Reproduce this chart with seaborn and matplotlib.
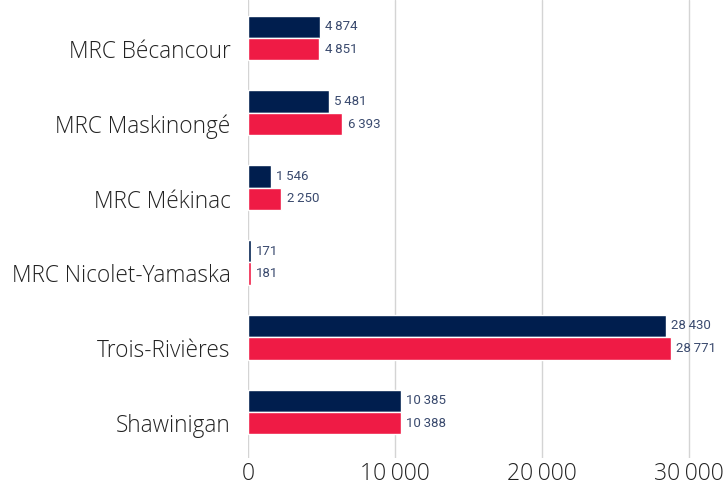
import matplotlib
matplotlib.use("Agg")
import matplotlib.pyplot as plt
import matplotlib.transforms as mtransforms
import seaborn as sns
import pandas as pd

regions = ["MRC Bécancour", "MRC Maskinongé", "MRC Mékinac",
           "MRC Nicolet-Yamaska", "Trois-Rivières", "Shawinigan"]
serie_a = [4874, 5481, 1546, 171, 28430, 10385]
serie_b = [4851, 6393, 2250, 181, 28771, 10388]
series = ["A", "B"]
x_ticks = [0, 10000, 20000, 30000]

colors = ["#001E4E", "#EF1B45"]
label_color = "#3A4A6E"


def fmt(v):
    s = f"{v:,}"
    return s.replace(",", "\u2009")


def main():
    df = pd.DataFrame({
        "region": regions * 2,
        "valeur": serie_a + serie_b,
        "serie": [series[0]] * len(regions) + [series[1]] * len(regions),
    })

    sns.set_style("white")
    plt.rcParams['font.family'] = ['Open Sans', 'DejaVu Sans']

    fig = plt.figure(figsize=(7.25, 4.91), dpi=100)
    ax = fig.add_axes([248 / 725, 33 / 491, 1 - 248 / 725, 458 / 491])

    sns.barplot(data=df, y="region", x="valeur", hue="serie", order=regions,
                palette=colors, width=0.6, orient="h", ax=ax, legend=False,
                saturation=1, zorder=3)

    for container in ax.containers:
        ax.bar_label(container, labels=[fmt(int(v)) for v in container.datavalues],
                     padding=4, fontsize=9.5, color=label_color, family=['Roboto', 'DejaVu Sans'])

    ax.set_xlim(0, 32450)
    ax.set_ylim(5.615, -0.508)
    ax.set_xticks(x_ticks)
    ax.set_xticklabels([fmt(t) for t in x_ticks], fontsize=16.5, fontweight='light', color="#222222")
    ax.set_yticks(range(len(regions)))
    ax.set_yticklabels(regions, fontsize=16.3, fontweight='light', color="#222222")
    ax.tick_params(axis='both', length=0)
    ax.tick_params(axis='x', pad=3)
    ax.tick_params(axis='y', pad=12.5)
    offset = mtransforms.ScaledTranslation(0, -11 / 100, fig.dpi_scale_trans)
    for lbl in ax.get_yticklabels():
        lbl.set_transform(lbl.get_transform() + offset)

    ax.xaxis.grid(True, color="#d4d4d4", linewidth=1, zorder=0)
    ax.yaxis.grid(False)
    ax.set_axisbelow(True)
    for sp in ax.spines.values():
        sp.set_visible(False)
    ax.set_xlabel("")
    ax.set_ylabel("")

    fig.savefig("out.png", dpi=100)


if __name__ == '__main__':
    main()
